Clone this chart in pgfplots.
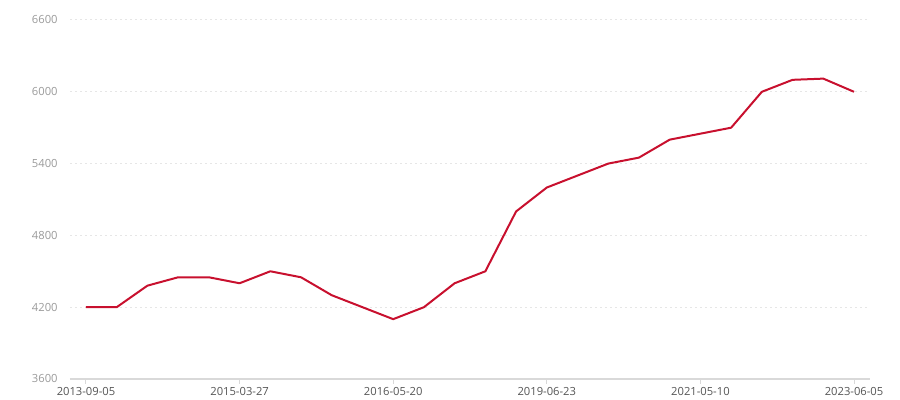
\documentclass[border=0pt]{standalone}
\usepackage{pgfplots}
\pgfplotsset{compat=1.18}
\usepackage{fontspec}
\setmainfont{Open Sans}
\definecolor{linered}{HTML}{C8102E}
\definecolor{gridc}{HTML}{E6E6E6}
\definecolor{axisc}{HTML}{D9D9D9}
\definecolor{ylab}{HTML}{9A9A9A}
\definecolor{xlab}{HTML}{555555}
\begin{document}
\begin{tikzpicture}
\path[use as bounding box] (-35pt,-10.5pt) rectangle (415pt,189.5pt);
\begin{axis}[
  at={(0pt,0pt)}, anchor=south west,
  scale only axis, width=400pt, height=179.5pt,
  xmin=-0.52, xmax=25.52, ymin=3600, ymax=6600,
  ytick={3600,4200,4800,5400,6000,6600},
  xtick={0,5,10,15,20,25},
  xticklabels={2013-09-05,2015-03-27,2016-05-20,2019-06-23,2021-05-10,2023-06-05},
  axis x line*=bottom, axis y line*=left,
  x axis line style={draw=axisc, line width=0.6pt, -},
  y axis line style={draw=none},
  xtick style={draw=axisc, line width=0.5pt},
  ytick style={draw=none},
  tick align=outside, major tick length=2.5pt,
  ymajorgrids, grid style={draw=gridc, line width=0.5pt, dash pattern=on 1pt off 1.5pt},
  /pgf/number format/assume math mode=true,
  /pgf/number format/1000 sep={},
  ticklabel style={font=\fontsize{5.6}{6.5}\selectfont},
  xticklabel style={text=xlab, inner sep=0pt, yshift=-1.5pt},
  yticklabel style={text=ylab, inner sep=0pt, xshift=-3.5pt},
  clip=false,
]
\addplot[draw=linered, line width=1pt, mark=none, line join=round] coordinates {
(0,4200) (1,4200) (2,4380) (3,4450) (4,4450) (5,4400) (6,4500) (7,4450) (8,4300) (9,4200)
(10,4100) (11,4200) (12,4400) (13,4500) (14,5000) (15,5200) (16,5300) (17,5400) (18,5450) (19,5600)
(20,5650) (21,5700) (22,6000) (23,6100) (24,6110) (25,6000)
};
\end{axis}
\end{tikzpicture}
\end{document}
